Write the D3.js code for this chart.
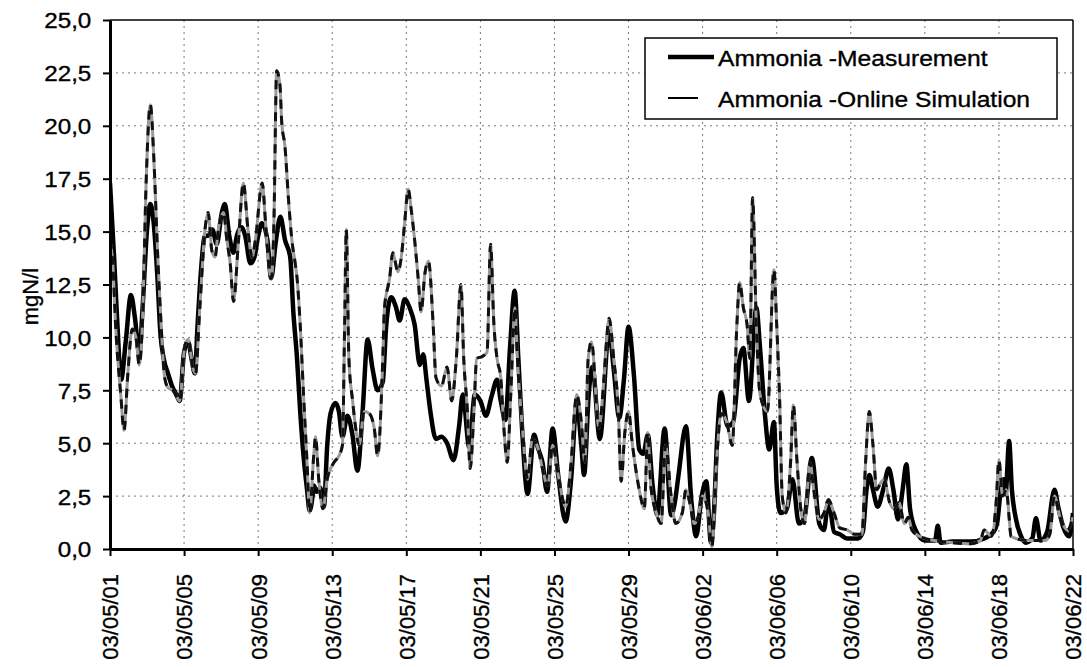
<!DOCTYPE html>
<html><head><meta charset="utf-8">
<script src="https://cdn.jsdelivr.net/npm/d3@7"></script>
<style>body{margin:0;background:#fff} text{font-family:Arial,"Liberation Sans",sans-serif;fill:#000;stroke:#000;stroke-width:0.35px}</style>
</head><body><svg id="c" width="1087" height="667"></svg>
<script>
// ---- data (day offset from 2003-05-01, value in mgN/l) ----
const tickDays = [0,4,8,12,16,20,24,28,32,36,40,44,48,52];
const tickLabels = ["03/05/01","03/05/05","03/05/09","03/05/13","03/05/17","03/05/21","03/05/25","03/05/29","03/06/02","03/06/06","03/06/10","03/06/14","03/06/18","03/06/22"];
const yTicks = [0,2.5,5,7.5,10,12.5,15,17.5,20,22.5,25];
const seriesNames = ["Ammonia -Measurement","Ammonia -Online Simulation"];
const yTitle = "mgN/l";

const measurement = [[0,17.3],[0.22,13.8],[0.4,10.6],[0.6,8.0],[0.85,9.8],[1.13,12.0],[1.35,10.9],[1.58,9.2],[1.76,11.4],[2.0,15.1],[2.18,16.3],[2.36,15.4],[2.55,13.0],[2.73,10.1],[2.9,9.0],[3.13,8.3],[3.35,7.7],[3.58,7.3],[3.76,7.0],[4.0,9.3],[4.22,9.8],[4.4,9.0],[4.58,8.3],[4.73,10.6],[4.9,13.0],[5.13,14.8],[5.3,14.8],[5.53,15.1],[5.76,14.4],[6.04,15.9],[6.2,16.3],[6.44,14.8],[6.67,14.0],[6.85,14.8],[7.1,15.2],[7.3,14.8],[7.58,13.5],[7.8,13.8],[8.0,14.8],[8.2,15.4],[8.5,14.6],[8.7,12.8],[8.95,14.5],[9.2,15.7],[9.45,14.6],[9.73,13.8],[9.9,11.2],[10.1,9.0],[10.27,6.5],[10.45,4.4],[10.64,2.8],[10.78,1.8],[10.95,2.6],[11.0,3.0],[11.18,2.7],[11.35,2.9],[11.55,2.0],[11.73,4.9],[11.91,6.4],[12.18,6.9],[12.36,6.5],[12.55,5.3],[12.82,6.3],[13.09,5.4],[13.36,3.7],[13.64,6.5],[13.91,9.9],[14.18,8.5],[14.45,7.5],[14.73,7.9],[14.91,10.5],[15.18,11.9],[15.45,11.4],[15.64,10.8],[15.91,11.8],[16.18,11.4],[16.45,10.6],[16.73,8.7],[16.91,9.2],[17.09,8.0],[17.3,6.5],[17.6,5.2],[17.9,5.3],[18.2,5.0],[18.55,4.2],[18.85,5.8],[19.05,7.3],[19.4,4.8],[19.7,7.3],[20.0,7.0],[20.3,6.3],[20.6,7.2],[20.9,8.0],[21.1,7.0],[21.35,6.1],[21.6,9.5],[21.85,12.2],[22.05,9.0],[22.25,5.7],[22.55,2.6],[22.9,5.4],[23.1,4.8],[23.35,4.1],[23.6,2.7],[23.9,5.7],[24.2,3.5],[24.6,1.3],[24.9,3.3],[25.2,6.9],[25.45,4.9],[25.6,3.5],[25.85,7.3],[26.05,8.6],[26.45,5.2],[26.95,10.3],[27.2,8.5],[27.5,6.2],[27.75,8.0],[28.0,10.5],[28.3,8.1],[28.58,4.7],[28.8,4.5],[29.04,5.4],[29.3,3.0],[29.55,1.6],[29.95,5.7],[30.3,1.6],[30.5,2.2],[30.7,3.5],[31.1,5.8],[31.4,2.2],[31.65,0.6],[31.95,2.5],[32.2,3.2],[32.45,0.3],[32.6,1.5],[32.8,5.5],[33.0,7.4],[33.35,5.8],[33.65,6.0],[34.0,9.0],[34.2,9.5],[34.5,7.0],[34.9,11.4],[35.1,9.5],[35.35,6.5],[35.6,4.7],[35.85,6.0],[36.0,3.0],[36.2,1.7],[36.55,1.9],[36.85,3.3],[37.2,1.2],[37.5,1.5],[37.9,4.3],[38.3,1.2],[38.55,0.9],[38.8,2.3],[39.1,0.8],[39.4,0.7],[39.8,0.5],[40.4,0.5],[40.65,0.8],[40.85,2.8],[41.0,3.5],[41.2,2.8],[41.45,2.0],[41.75,2.8],[42.05,3.8],[42.3,2.8],[42.55,1.4],[42.8,2.8],[43.0,4.0],[43.2,1.9],[43.5,0.9],[44.0,0.4],[44.55,0.4],[44.7,1.1],[44.85,0.3],[45.5,0.35],[46.5,0.35],[47.2,0.5],[47.7,0.8],[47.9,1.2],[48.1,2.8],[48.25,3.3],[48.36,2.6],[48.55,5.1],[48.7,2.8],[48.9,1.5],[49.2,0.6],[49.45,0.3],[49.8,0.5],[50.0,1.45],[50.25,0.4],[50.6,0.8],[51.0,2.8],[51.2,2.0],[51.45,1.1],[51.8,0.6],[52.0,1.7]];

const simulation = [[0,14.6],[0.15,13.5],[0.3,10.6],[0.58,7.3],[0.76,5.6],[0.95,8.1],[1.2,10.4],[1.4,10.0],[1.58,8.7],[1.76,10.9],[1.95,17.3],[2.18,21.0],[2.36,18.6],[2.58,13.8],[2.76,10.6],[2.95,8.1],[3.15,7.6],[3.4,7.5],[3.6,7.2],[3.76,7.0],[4.04,9.6],[4.22,9.9],[4.49,8.5],[4.62,8.3],[4.85,11.4],[5.13,15.1],[5.3,15.9],[5.5,14.1],[5.67,13.8],[5.85,15.1],[6.13,15.9],[6.31,14.6],[6.49,13.5],[6.67,11.7],[6.94,14.6],[7.2,17.3],[7.45,15.1],[7.67,13.8],[7.85,14.6],[8.22,17.3],[8.4,15.4],[8.6,13.2],[8.72,12.8],[8.85,15.4],[9.0,22.6],[9.18,21.9],[9.27,20.2],[9.45,19.0],[9.64,16.5],[9.82,14.6],[10.0,13.5],[10.1,12.8],[10.27,10.6],[10.45,7.3],[10.64,4.1],[10.78,1.7],[11.0,4.4],[11.1,5.3],[11.27,3.3],[11.5,1.9],[11.73,3.3],[12.1,4.1],[12.36,4.4],[12.55,4.9],[12.67,10.6],[12.76,15.1],[12.9,9.0],[13.1,7.0],[13.27,5.7],[13.45,4.9],[13.73,6.5],[14.0,6.4],[14.27,5.7],[14.45,4.4],[14.73,9.0],[14.82,11.4],[15.1,12.8],[15.27,14.0],[15.55,13.1],[15.73,13.8],[15.91,15.4],[16.1,17.0],[16.27,16.0],[16.45,14.6],[16.64,12.8],[16.8,11.2],[17.0,13.0],[17.2,13.6],[17.45,10.6],[17.6,8.1],[17.9,7.7],[18.2,8.6],[18.45,7.0],[18.7,9.0],[18.95,12.5],[19.1,9.0],[19.3,6.5],[19.45,3.8],[19.65,6.5],[19.8,9.0],[20.1,9.1],[20.36,9.3],[20.55,14.4],[20.73,10.6],[20.9,9.0],[21.1,8.1],[21.27,5.7],[21.45,4.1],[21.64,7.3],[21.87,11.4],[22.0,9.0],[22.27,5.7],[22.55,3.3],[22.8,5.2],[23.1,4.8],[23.35,3.8],[23.64,3.0],[23.9,4.9],[24.2,3.5],[24.6,2.0],[24.9,4.1],[25.2,7.3],[25.45,6.0],[25.64,4.1],[25.82,9.0],[26.0,9.8],[26.4,5.7],[26.68,8.1],[26.95,10.9],[27.2,9.0],[27.45,6.5],[27.6,3.2],[27.8,5.5],[28.0,6.5],[28.2,5.0],[28.58,2.8],[28.85,1.9],[29.04,5.5],[29.2,3.0],[29.5,1.7],[29.76,1.2],[30.0,4.9],[30.3,2.5],[30.55,1.2],[30.9,1.7],[31.1,2.8],[31.3,2.2],[31.55,1.2],[31.75,1.5],[32.0,2.5],[32.3,1.7],[32.5,0.1],[32.75,4.1],[33.0,6.4],[33.3,6.0],[33.6,4.9],[33.85,10.6],[34.0,12.6],[34.2,11.4],[34.4,10.6],[34.55,9.0],[34.7,16.6],[34.9,10.6],[35.1,7.3],[35.5,6.5],[35.85,13.2],[36.0,10.6],[36.15,7.3],[36.3,2.5],[36.5,1.7],[36.75,4.1],[36.9,6.8],[37.1,4.1],[37.3,1.9],[37.5,1.2],[37.8,4.1],[38.0,2.8],[38.3,1.4],[38.55,1.7],[38.8,2.3],[39.1,1.7],[39.4,1.0],[39.8,0.9],[40.2,0.7],[40.6,0.7],[40.8,4.1],[41.0,6.5],[41.2,4.9],[41.4,2.8],[41.6,3.1],[41.8,3.3],[42.1,2.2],[42.35,1.9],[42.6,2.2],[42.9,1.2],[43.1,1.5],[43.3,0.9],[43.7,0.6],[44.5,0.4],[45.5,0.3],[46.5,0.25],[47.0,0.4],[47.2,0.9],[47.6,0.6],[47.85,2.2],[48.0,4.2],[48.2,2.5],[48.4,2.8],[48.55,1.5],[48.65,0.6],[49.5,0.4],[50.5,0.4],[50.75,0.7],[51.0,2.5],[51.3,1.5],[51.7,0.9],[52.0,1.5]];

// ---- layout ----
const L = 110, R = 1073, T = 20, B = 549;
const svg = d3.select("#c");
const x = d3.scaleLinear().domain([0, 52]).range([L, R]);
const y = d3.scaleLinear().domain([0, 25]).range([B, T]);
const fmt = v => d3.format(".1f")(v).replace(".", ",");

// gridlines
const grid = svg.append("g").attr("stroke", "#7a7a7a").attr("stroke-width", 1).attr("stroke-dasharray", "2,4");
grid.selectAll("line.h").data(yTicks.filter(v => v > 0 && v < 25)).join("line")
  .attr("x1", L).attr("x2", R).attr("y1", d => y(d)).attr("y2", d => y(d));
grid.selectAll("line.v").data(tickDays.filter(d => d > 0 && d < 52)).join("line")
  .attr("x1", d => x(d)).attr("x2", d => x(d)).attr("y1", T).attr("y2", B);

// frame top/right
svg.append("line").attr("x1", L).attr("x2", R).attr("y1", T).attr("y2", T).attr("stroke", "#000").attr("stroke-width", 1.5);
svg.append("line").attr("x1", R).attr("x2", R).attr("y1", T).attr("y2", B).attr("stroke", "#000").attr("stroke-width", 1.5);

// lines
svg.append("clipPath").attr("id", "clip").append("rect").attr("x", L).attr("y", T - 2).attr("width", R - L).attr("height", B - T + 2);
const line = d3.line().x(d => x(d[0])).y(d => y(d[1])).curve(d3.curveMonotoneX);
const lg = svg.append("g").attr("clip-path", "url(#clip)");
lg.append("path").datum(measurement).attr("d", line).attr("fill", "none").attr("stroke", "#000").attr("stroke-width", 4.5).attr("stroke-linejoin", "round");
lg.append("path").datum(simulation).attr("d", line).attr("fill", "none").attr("stroke", "#9a9a9a").attr("stroke-width", 3);
lg.append("path").datum(simulation).attr("d", line).attr("fill", "none").attr("stroke", "#111").attr("stroke-width", 3).attr("stroke-dasharray", "9,7");

// axes
const yAxis = svg.append("g").attr("transform", `translate(${L},0)`)
  .call(d3.axisLeft(y).tickValues(yTicks).tickFormat(fmt).tickSize(7).tickSizeOuter(0));
yAxis.select(".domain").attr("stroke-width", 3);
yAxis.selectAll(".tick line").attr("stroke-width", 2);
yAxis.selectAll(".tick text").attr("font-size", 22).attr("x", -17).attr("dy", "0.36em")
  .attr("transform", "scale(1.1,1)").style("font-family", "Arial, 'Liberation Sans', sans-serif");

const xAxis = svg.append("g").attr("transform", `translate(0,${B})`)
  .call(d3.axisBottom(x).tickValues(tickDays).tickFormat((d, i) => tickLabels[i]).tickSize(7).tickSizeOuter(0));
xAxis.select(".domain").attr("stroke-width", 3);
xAxis.selectAll(".tick line").attr("stroke-width", 2);
xAxis.selectAll(".tick text").attr("font-size", 22).attr("text-anchor", "end")
  .attr("transform", "rotate(-90)").attr("x", -25).attr("y", 0).attr("dy", "0.36em")
  .style("font-family", "Arial, 'Liberation Sans', sans-serif");

// y title
svg.append("text").attr("transform", `translate(38,${(T + B) / 2 + 12}) rotate(-90)`)
  .attr("text-anchor", "middle").attr("font-size", 22).text(yTitle);

// legend
const leg = svg.append("g");
leg.append("rect").attr("x", 645).attr("y", 38).attr("width", 412).attr("height", 81)
  .attr("fill", "#fff").attr("stroke", "#000").attr("stroke-width", 1.5);
leg.append("line").attr("x1", 668).attr("x2", 714).attr("y1", 57).attr("y2", 57).attr("stroke", "#000").attr("stroke-width", 4.5);
leg.append("line").attr("x1", 668).attr("x2", 698).attr("y1", 98).attr("y2", 98).attr("stroke", "#000").attr("stroke-width", 2);
leg.selectAll("text.lt").data(seriesNames).join("text")
  .attr("transform", (d, i) => `translate(718,${58 + i * 41}) scale(1.12,1)`)
  .attr("dy", "0.36em").attr("font-size", 22).text(d => d);
</script></body></html>
